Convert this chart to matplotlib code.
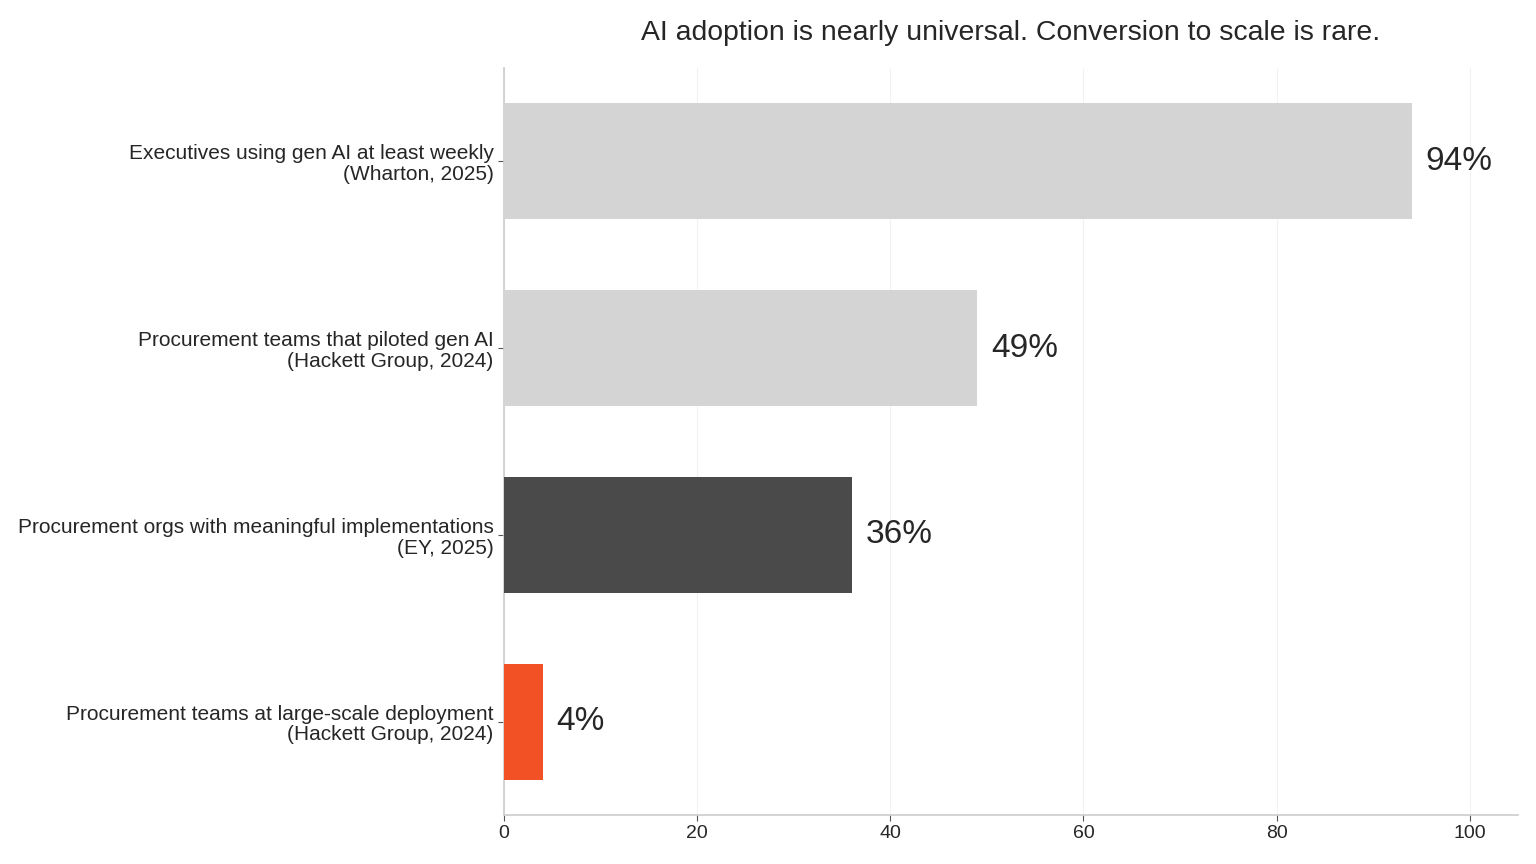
import matplotlib
matplotlib.use("Agg")
import matplotlib.pyplot as plt

categories = [
    "Executives using gen AI at least weekly\n(Wharton, 2025)",
    "Procurement teams that piloted gen AI\n(Hackett Group, 2024)",
    "Procurement orgs with meaningful implementations\n(EY, 2025)",
    "Procurement teams at large-scale deployment\n(Hackett Group, 2024)",
]
values = [94, 49, 36, 4]
colors = ["#d4d4d4", "#d4d4d4", "#4a4a4a", "#f25125"]
xticks = [0, 20, 40, 60, 80, 100]
title = "AI adoption is nearly universal. Conversion to scale is rare."

plt.rcParams['font.family'] = ['Liberation Sans', 'DejaVu Sans']

fig = plt.figure(figsize=(15.36, 8.64), dpi=100)
ax = fig.add_axes([504/1536, 1-815/864, (1518-504)/1536, (815-68)/864])

ypos = list(range(len(categories)))
ax.barh(ypos, values, height=0.62, color=colors, zorder=3)
ax.set_ylim(len(categories) - 0.5, -0.5)
ax.set_xlim(0, 105)
ax.set_yticks(ypos)
ax.set_yticklabels(categories, fontsize=15, color="#262626", linespacing=1.12)
ax.set_xticks(xticks)
ax.set_xticklabels([str(t) for t in xticks], fontsize=14, color="#262626")

for y, v in zip(ypos, values):
    ax.annotate(f"{v}%", xy=(v, y), xytext=(10, 0), textcoords="offset points",
                va="center", ha="left", fontsize=24, color="#262626")

for s in ["top", "right"]:
    ax.spines[s].set_visible(False)
for s in ["left", "bottom"]:
    ax.spines[s].set_color("#cccccc")
    ax.spines[s].set_linewidth(1.2)
ax.tick_params(axis="both", length=4, width=0.8, color="#555555")
ax.xaxis.grid(True, color="#f2f2f2", linewidth=0.8, zorder=0)
ax.set_axisbelow(True)

ax.set_title(title, fontsize=20.4, color="#262626", pad=20)

fig.savefig("out.png", dpi=100)
